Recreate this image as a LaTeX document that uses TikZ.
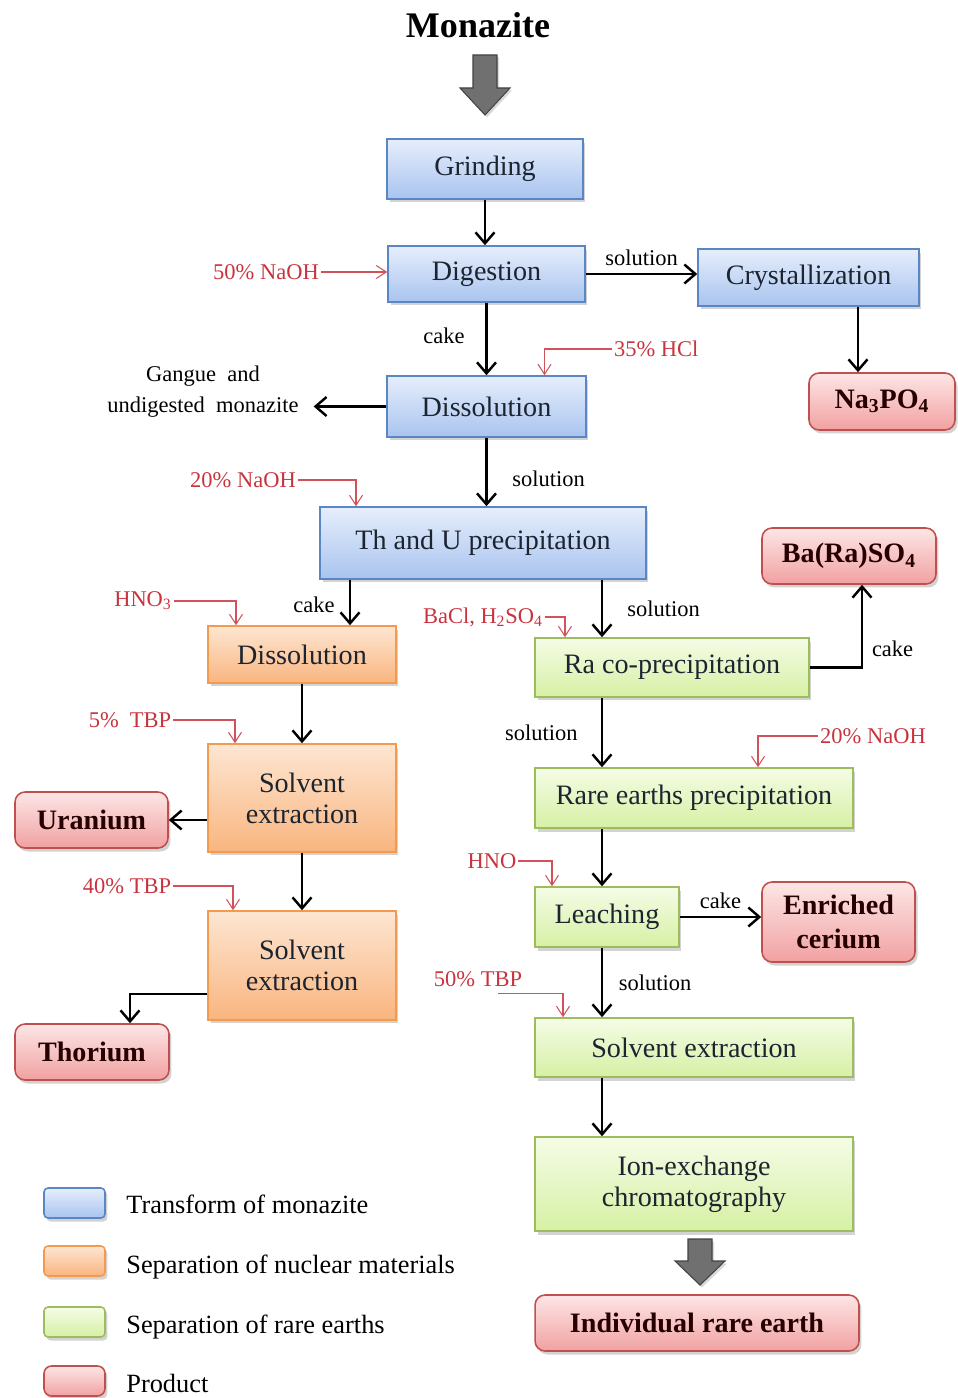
\documentclass[tikz,border=0pt]{standalone}
\usepackage{fontspec}
\setmainfont{Liberation Serif}
\usetikzlibrary{positioning,arrows.meta,calc,shadows}
\definecolor{bluetop}{HTML}{E6EEFC}
\definecolor{bluebot}{HTML}{A9C4EF}
\definecolor{blueline}{HTML}{5A86C4}
\definecolor{orangetop}{HTML}{FDE6D2}
\definecolor{orangebot}{HTML}{F9B57F}
\definecolor{orangeline}{HTML}{F39A4F}
\definecolor{greentop}{HTML}{F5FCE6}
\definecolor{greenbot}{HTML}{D6F0A4}
\definecolor{greenline}{HTML}{9CBC5D}
\definecolor{redtop}{HTML}{FDE6E6}
\definecolor{redbot}{HTML}{F1A1A1}
\definecolor{redline}{HTML}{C0504D}
\definecolor{feedred}{HTML}{C8333D}
\definecolor{arrowgray}{HTML}{707070}
\definecolor{textdark}{HTML}{1C2430}

\begin{document}
\begin{tikzpicture}[
    x=0.02cm, y=-0.02cm,
    >={Straight Barb[length=2.2mm,width=3.8mm]},
    every node/.style={font=\fontsize{16}{17.6}\selectfont, text=textdark},
    box/.style={
        draw,
        line width=0.9pt,
        inner sep=0pt,
        align=center,
        drop shadow={opacity=0.35, shadow xshift=0.5mm, shadow yshift=-0.7mm}
    },
    transform/.style={box, draw=blueline, top color=bluetop, bottom color=bluebot},
    nuclear/.style={box, draw=orangeline, top color=orangetop, bottom color=orangebot},
    rareearth/.style={box, draw=greenline, top color=greentop, bottom color=greenbot},
    product/.style={
        box,
        draw=redline,
        top color=redtop,
        bottom color=redbot,
        rounded corners=2mm,
        font=\fontsize{16}{17.6}\selectfont\bfseries,
        text=black!85!red
    },
    flow/.style={->, line width=1.4pt},
    feed/.style={->, >={Straight Barb[length=2mm,width=2.6mm]}, line width=0.6pt, feedred!85},
    reagent/.style={font=\fontsize{12.8}{14}\selectfont, text=feedred, inner sep=1pt},
    lbl/.style={font=\fontsize{12.8}{14}\selectfont, text=black, inner sep=1pt},
    bigarrow/.style={draw=arrowgray!60!black, fill=arrowgray, line width=0.6pt,
        drop shadow={opacity=0.3, shadow xshift=0.4mm, shadow yshift=-0.5mm}},
    swatch/.style={minimum width=1.22cm, minimum height=0.6cm, rounded corners=0.8mm},
    legend/.style={font=\fontsize{15}{18}\selectfont, text=black, anchor=west, inner sep=0pt}
]

\useasboundingbox (0,0) rectangle (957,1398);

% transform of monazite
\node[font=\fontsize{20.5}{24}\selectfont\bfseries, text=black] (title) at (478,25) {Monazite};
\draw[bigarrow] (473,55) -- (497,55) -- (497,88) -- (510,88) -- (485,115) -- (460,88) -- (473,88) -- cycle;

\node[transform, minimum width=3.92cm, minimum height=1.2cm] (grind) at (485,169) {Grinding};
\node[transform, minimum width=3.94cm, minimum height=1.12cm] (dig) at (486.5,274) {Digestion};
\node[transform, minimum width=4.42cm, minimum height=1.14cm] (cryst) at (808.5,277.5) {Crystallization};
\node[product, minimum width=2.92cm, minimum height=1.14cm] (napo) at (882,401.5) {Na\textsubscript{3}PO\textsubscript{4}};
\node[transform, minimum width=3.98cm, minimum height=1.22cm] (bdis) at (486.5,406.5) {Dissolution};
\node[lbl, align=center, font=\fontsize{12.8}{17.6}\selectfont] (gangue) at (203,392) {Gangue\ \ and\\undigested\ \ monazite};
\node[transform, minimum width=6.52cm, minimum height=1.44cm] (thu) at (483,543) {Th and U precipitation};

\node[reagent] (naoh50) at (266,272) {50\% NaOH};
\node[reagent, anchor=west] (hcl) at (612,349) {35\% HCl};
\node[reagent] (naoh20a) at (243,480) {20\% NaOH};

\draw[flow] (grind) -- (grind |- dig.north);
\draw[flow] (dig) -- node[lbl, above=1mm] {solution} (cryst.west |- dig.east);
\draw[flow] (cryst.south -| 858,0) -- (napo.north -| 858,0);
\draw[flow] (dig) -- node[lbl, left=3.8mm, pos=0.45] {cake} (bdis);
\draw[flow] (bdis.west) -- (bdis.west -| gangue.east) [shorten >=2.6mm];
\draw[flow] (bdis.south) -- node[lbl, right=4.6mm, pos=0.6] {solution} (bdis.south |- thu.north);

\draw[feed] (naoh50.east) -- (naoh50.east -| dig.west);
\draw[feed] (hcl.west) -| ($(bdis.north)+(58,0)$);
\draw[feed] (naoh20a.east) -| ($(thu.north)+(-127,0)$);

% separation of nuclear materials
\node[nuclear, minimum width=3.76cm, minimum height=1.14cm] (odis) at (302,654.5) {Dissolution};
\node[nuclear, minimum width=3.76cm, minimum height=2.16cm] (solv1) at (302,798) {Solvent\\extraction};
\node[nuclear, minimum width=3.76cm, minimum height=2.18cm] (solv2) at (302,965.5) {Solvent\\extraction};
\node[product, minimum width=3.06cm, minimum height=1.12cm] (uran) at (91.5,820) {Uranium};
\node[product, minimum width=3.08cm, minimum height=1.12cm] (thor) at (92,1052) {Thorium};

\node[reagent] (hnoa) at (143,601) {HNO\textsubscript{3}};
\node[reagent] (tbp5) at (130,720) {5\%\ \ TBP};
\node[reagent] (tbp40) at (127,886) {40\% TBP};

\coordinate (cakecol) at ($(odis.north)+(48,0)$);
\draw[flow] (thu.south -| cakecol) -- node[lbl, left=2.5mm, pos=0.55] {cake} (cakecol);
\draw[flow] (odis) -- (solv1);
\draw[flow] (solv1.west |- uran.east) -- (uran.east);
\draw[flow] (solv1) -- (solv2);
\draw[flow] ([yshift=-5.7mm]solv2.west) -| ($(thor.north)+(38,0)$);

\draw[feed] (hnoa.east) -| ($(odis.north)+(-66,0)$);
\draw[feed] (tbp5.east) -| ($(solv1.north)+(-67,0)$);
\draw[feed] (tbp40.east) -| ($(solv2.north)+(-69,0)$);

% separation of rare earths
\node[rareearth, minimum width=5.48cm, minimum height=1.18cm] (ra) at (672,667.5) {Ra co-precipitation};
\node[product, minimum width=3.48cm, minimum height=1.12cm] (bara) at (849,556) {Ba(Ra)SO\textsubscript{4}};
\node[rareearth, minimum width=6.36cm, minimum height=1.2cm] (rep) at (694,798) {Rare earths precipitation};
\node[rareearth, minimum width=2.88cm, minimum height=1.2cm] (leach) at (607,917) {Leaching};
\node[product, minimum width=3.06cm, minimum height=1.6cm] (cer) at (838.5,922) {Enriched\\[2pt]cerium};
\node[rareearth, minimum width=6.36cm, minimum height=1.18cm] (sx) at (694,1047.5) {Solvent extraction};
\node[rareearth, minimum width=6.36cm, minimum height=1.88cm] (ion) at (694,1184) {Ion-exchange\\chromatography};
\node[product, minimum width=6.48cm, minimum height=1.12cm] (indiv) at (697,1323) {Individual rare earth};

\node[reagent] (bacl) at (483,617) {BaCl, H\textsubscript{2}SO\textsubscript{4}};
\node[reagent] (naoh20b) at (873,736) {20\% NaOH};
\node[reagent] (hnob) at (492,861) {HNO};
\node[reagent] (tbp50) at (478,979) {50\% TBP};

\coordinate (recol) at ($(ra.north)+(-70,0)$);
\draw[flow] (thu.south -| recol) -- node[lbl, right=4.5mm] {solution} (recol);
\draw[flow] (ra.east) -| node[lbl, right=1.4mm, pos=0.61] {cake} ($(bara.south)+(13,0)$);
\draw[flow] (ra.south -| recol) -- node[lbl, left=4.3mm] {solution} (rep.north -| recol);
\draw[flow] (rep.south -| recol) -- (leach.north -| recol);
\draw[flow] (leach.east) -- node[lbl, above=1mm] {cake} (leach.east -| cer.west);
\draw[flow] (leach.south -| recol) -- node[lbl, right=2.8mm] {solution} (sx.north -| recol);
\draw[flow] (sx.south -| recol) -- (ion.north -| recol);
\draw[bigarrow] (688,1239) -- (712,1239) -- (712,1261) -- (725,1261) -- (700,1285) -- (675,1261) -- (688,1261) -- cycle;

\draw[feed] (bacl.east) -| ($(ra.north)+(-107,0)$);
\draw[feed] (naoh20b.west) -| ($(rep.north)+(64,0)$);
\draw[feed] (hnob.east) -| ($(leach.north)+(-55,0)$);
\draw[feed] ([xshift=4mm,yshift=-1mm]tbp50.south) -| ($(sx.north)+(-131,0)$);

% legend
\node[transform, swatch] (legA) at (74.5,1203) {};
\node[nuclear, swatch] (legB) at (74.5,1261) {};
\node[rareearth, swatch] (legC) at (74.5,1322) {};
\node[product, swatch, rounded corners=1.5mm] (legD) at (74.5,1381) {};
\node[legend] (legAtext) at (126,1204) {Transform of monazite};
\node[legend] (legBtext) at (126,1267) {Separation of nuclear materials};
\node[legend] (legCtext) at (126,1327) {Separation of rare earths};
\node[legend] (legDtext) at (126,1383) {Product};

\end{tikzpicture}
\end{document}
